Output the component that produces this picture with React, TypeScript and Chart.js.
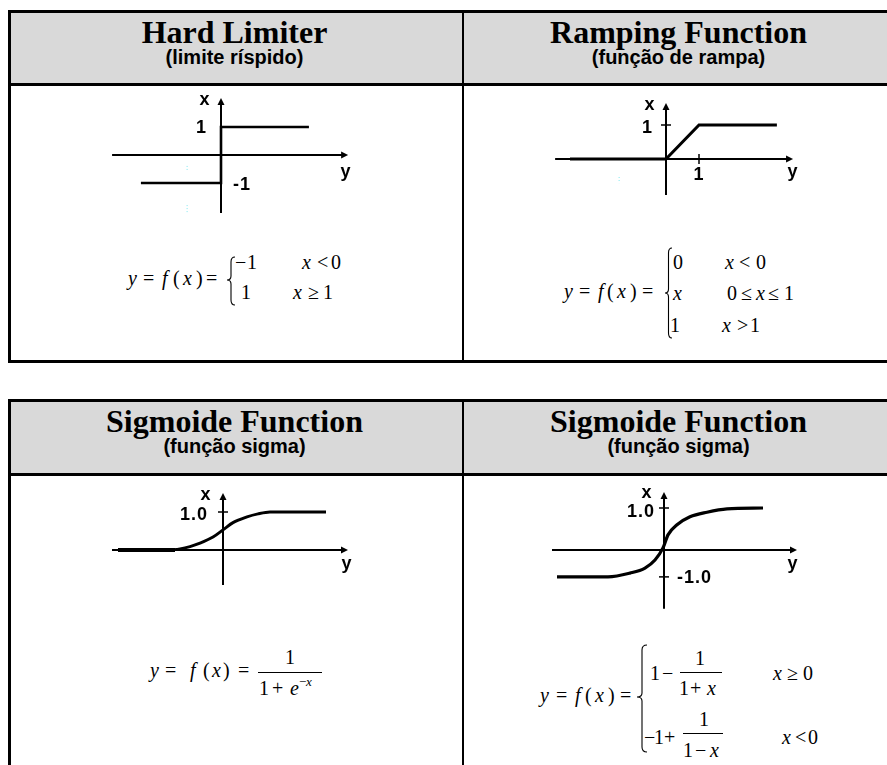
import React, { useEffect, useRef } from 'react';
import { Chart, registerables } from 'chart.js';

Chart.register(...registerables);

// ---------------- text ----------------
const titles = ['Hard Limiter', 'Ramping Function', 'Sigmoide Function', 'Sigmoide Function'];
const subtitles = ['(limite ríspido)', '(função de rampa)', '(função sigma)', '(função sigma)'];
const axisNames = ['x', 'y'];

// ---------------- Hard limiter ----------------
const hardAxisH = [-3.89, 4.54];
const hardAxisV = [-2.07, 2.04];
const hardStepX = [-2.86, 0, 0, 3.14];
const hardStepY = [-1, -1, 1, 1];
const hardTickValues = [1, -1];
const hardTickLabels = ['1', '-1'];
const hardMarkX = [-1.21, -1.21];
const hardMarkY1 = [-0.39, -0.54];
const hardMarkY2 = [-1.79, -2.04];

// ---------------- Ramping function ----------------
const rampAxisH = [-3.36, 3.85];
const rampAxisV = [-1.06, 1.65];
const rampX = [-2.91, 0, 1, 3.36];
const rampY = [0, 0, 1, 1];
const rampTickValues = [1];
const rampTickLabels = ['1'];
const rampMarkX = [-1.42, -1.42];
const rampMarkY = [-0.53, -0.71];

// ---------------- Sigmoid (logistic) ----------------
const sigAxisH = [-5.55, 6.25];
const sigAxisV = [-0.92, 1.5];
const sigTailX = [-5.25, -2.4];
const sigTailY = [0, 0];
const sigX = [-2.65, -2.15, -1.65, -1.15, -0.5, 0, 0.5, 1.2, 1.75, 2.35, 5.15];
const sigY = [0, 0.03, 0.09, 0.18, 0.34, 0.53, 0.72, 0.87, 0.95, 1.0, 1.0];
const sigTickValues = [1];
const sigTickLabels = ['1.0'];

// ---------------- Sigmoid (bipolar) ----------------
const bipAxisH = [-5.6, 6.65];
const bipAxisV = [-1.4, 1.38];
const bipX = [-5.35, -2.8, -1.7, -0.95, -0.45, -0.05, 0.2, 0.65, 1.3, 2.15, 3.15, 4.95];
const bipY = [-0.64, -0.64, -0.55, -0.43, -0.24, 0.05, 0.36, 0.6, 0.79, 0.9, 0.98, 1.0];
const bipTickValues = [1.0, -0.64];
const bipTickLabels = ['1.0', '-1.0'];

// ---------------- chart config ----------------
type Series = { xs: number[]; ys: number[]; width: number; color?: string; dash?: number[]; smooth?: boolean };
type Off = { dx: number; dy: number; align?: CanvasTextAlign };
type GraphCfg = {
  box: { left: number; top: number; width: number; height: number };
  origin: [number, number];
  unit: [number, number];
  axisH: number[];
  axisV: number[];
  series: Series[];
  vTicks: number[];
  vLabels: string[];
  vOff: Off[];
  vMarks: boolean;
  hTicks: number[];
  hLabels: string[];
  hOff: Off[];
  nameXOff: Off;
  nameYOff: Off;
};

const CYAN = '#7fe8f0';

const graphs: GraphCfg[] = [
  {
    box: { left: 95, top: 90, width: 275, height: 135 },
    origin: [221, 155],
    unit: [28, 28],
    axisH: hardAxisH,
    axisV: hardAxisV,
    series: [
      { xs: hardStepX, ys: hardStepY, width: 2.6 },
      { xs: hardMarkX, ys: hardMarkY1, width: 1, color: CYAN, dash: [1, 2] },
      { xs: hardMarkX, ys: hardMarkY2, width: 1, color: CYAN, dash: [1, 2] },
    ],
    vTicks: hardTickValues,
    vLabels: hardTickLabels,
    vOff: [
      { dx: -14, dy: 6, align: 'right' },
      { dx: 12, dy: 7, align: 'left' },
    ],
    vMarks: false,
    hTicks: [],
    hLabels: [],
    hOff: [],
    nameXOff: { dx: -16, dy: 7 },
    nameYOff: { dx: -2, dy: 22 },
  },
  {
    box: { left: 540, top: 90, width: 270, height: 115 },
    origin: [666, 159],
    unit: [33, 34],
    axisH: rampAxisH,
    axisV: rampAxisV,
    series: [
      { xs: rampX, ys: rampY, width: 3 },
      { xs: rampMarkX, ys: rampMarkY, width: 1, color: CYAN, dash: [1, 2] },
    ],
    vTicks: rampTickValues,
    vLabels: rampTickLabels,
    vOff: [{ dx: -13, dy: 8, align: 'right' }],
    vMarks: true,
    hTicks: rampTickValues,
    hLabels: rampTickLabels,
    hOff: [{ dx: 0, dy: 21, align: 'center' }],
    nameXOff: { dx: -16, dy: 7 },
    nameYOff: { dx: 0, dy: 18 },
  },
  {
    box: { left: 95, top: 480, width: 275, height: 115 },
    origin: [223, 550],
    unit: [20, 38],
    axisH: sigAxisH,
    axisV: sigAxisV,
    series: [
      { xs: sigTailX, ys: sigTailY, width: 4 },
      { xs: sigX, ys: sigY, width: 3, smooth: true },
    ],
    vTicks: sigTickValues,
    vLabels: sigTickLabels,
    vOff: [{ dx: -15, dy: 8, align: 'right' }],
    vMarks: true,
    hTicks: [],
    hLabels: [],
    hOff: [],
    nameXOff: { dx: -17, dy: 7 },
    nameYOff: { dx: -1, dy: 19 },
  },
  {
    box: { left: 535, top: 480, width: 280, height: 135 },
    origin: [664, 550],
    unit: [20, 42],
    axisH: bipAxisH,
    axisV: bipAxisV,
    series: [{ xs: bipX, ys: bipY, width: 3.2, smooth: true }],
    vTicks: bipTickValues,
    vLabels: bipTickLabels,
    vOff: [
      { dx: -9, dy: 9, align: 'right' },
      { dx: 13, dy: 6, align: 'left' },
    ],
    vMarks: true,
    hTicks: [],
    hLabels: [],
    hOff: [],
    nameXOff: { dx: -17, dy: 6 },
    nameYOff: { dx: -4, dy: 19 },
  },
];

const LABEL_FONT = 'bold 18px "Liberation Sans", Arial, sans-serif';

function makePlugin(cfg: GraphCfg) {
  return {
    id: 'arrowAxes',
    beforeDatasetsDraw(chart: any) {
      const ctx: CanvasRenderingContext2D = chart.ctx;
      const X = (v: number) => chart.scales.x.getPixelForValue(v);
      const Y = (v: number) => chart.scales.y.getPixelForValue(v);
      const ox = X(0);
      const oy = Y(0);
      ctx.save();
      ctx.strokeStyle = '#000';
      ctx.fillStyle = '#000';
      ctx.lineWidth = 2;
      const h0 = X(cfg.axisH[0]);
      const h1 = X(cfg.axisH[1]);
      ctx.beginPath();
      ctx.moveTo(h0, oy);
      ctx.lineTo(h1 - 4, oy);
      ctx.stroke();
      ctx.beginPath();
      ctx.moveTo(h1, oy);
      ctx.lineTo(h1 - 7, oy - 3.5);
      ctx.lineTo(h1 - 7, oy + 3.5);
      ctx.closePath();
      ctx.fill();
      const v0 = Y(cfg.axisV[0]);
      const v1 = Y(cfg.axisV[1]);
      ctx.beginPath();
      ctx.moveTo(ox, v0);
      ctx.lineTo(ox, v1 + 4);
      ctx.stroke();
      ctx.beginPath();
      ctx.moveTo(ox, v1);
      ctx.lineTo(ox - 3.5, v1 + 7);
      ctx.lineTo(ox + 3.5, v1 + 7);
      ctx.closePath();
      ctx.fill();
      ctx.lineWidth = 1.5;
      if (cfg.vMarks) {
        cfg.vTicks.forEach((t) => {
          const y = Y(t);
          ctx.beginPath();
          ctx.moveTo(ox - 5, y);
          ctx.lineTo(ox + 5, y);
          ctx.stroke();
        });
      }
      cfg.hTicks.forEach((t) => {
        const x = X(t);
        ctx.beginPath();
        ctx.moveTo(x, oy - 5);
        ctx.lineTo(x, oy + 5);
        ctx.stroke();
      });
      ctx.restore();
    },
    afterDatasetsDraw(chart: any) {
      const ctx: any = chart.ctx;
      const X = (v: number) => chart.scales.x.getPixelForValue(v);
      const Y = (v: number) => chart.scales.y.getPixelForValue(v);
      const ox = X(0);
      const oy = Y(0);
      ctx.save();
      ctx.fillStyle = '#000';
      ctx.font = LABEL_FONT;
      ctx.textBaseline = 'alphabetic';
      try {
        ctx.letterSpacing = '1px';
      } catch (e) {}
      cfg.vTicks.forEach((t, i) => {
        const o = cfg.vOff[i];
        ctx.textAlign = o.align || 'center';
        ctx.fillText(cfg.vLabels[i], ox + o.dx, Y(t) + o.dy);
      });
      cfg.hTicks.forEach((t, i) => {
        const o = cfg.hOff[i];
        ctx.textAlign = o.align || 'center';
        ctx.fillText(cfg.hLabels[i], X(t) + o.dx, oy + o.dy);
      });
      ctx.textAlign = 'center';
      ctx.fillText(axisNames[0], ox + cfg.nameXOff.dx, Y(cfg.axisV[1]) + cfg.nameXOff.dy);
      ctx.fillText(axisNames[1], X(cfg.axisH[1]) + cfg.nameYOff.dx, oy + cfg.nameYOff.dy);
      ctx.restore();
    },
  };
}

function Graph({ cfg }: { cfg: GraphCfg }) {
  const ref = useRef<HTMLCanvasElement>(null);
  useEffect(() => {
    const canvas = ref.current;
    if (!canvas) return;
    const { box, origin, unit } = cfg;
    const xmin = (box.left - origin[0]) / unit[0];
    const xmax = (box.left + box.width - origin[0]) / unit[0];
    const ymax = (origin[1] - box.top) / unit[1];
    const ymin = (origin[1] - (box.top + box.height)) / unit[1];
    const chart = new Chart(canvas, {
      type: 'scatter',
      data: {
        datasets: cfg.series.map((s) => ({
          data: s.xs.map((x, i) => ({ x, y: s.ys[i] })),
          showLine: true,
          borderColor: s.color || '#000',
          backgroundColor: s.color || '#000',
          borderWidth: s.width,
          borderDash: s.dash || [],
          pointRadius: 0,
          pointHoverRadius: 0,
          fill: false,
          tension: 0,
          cubicInterpolationMode: s.smooth ? 'monotone' : 'default',
          borderCapStyle: 'butt',
          borderJoinStyle: 'miter',
        })),
      },
      options: {
        responsive: false,
        maintainAspectRatio: false,
        animation: false,
        devicePixelRatio: 1,
        events: [],
        layout: { padding: 0 },
        scales: {
          x: { type: 'linear', display: false, min: xmin, max: xmax },
          y: { type: 'linear', display: false, min: ymin, max: ymax },
        },
        plugins: { legend: { display: false }, tooltip: { enabled: false } },
      },
      plugins: [makePlugin(cfg)],
    } as any);
    return () => chart.destroy();
  }, [cfg]);
  return (
    <canvas
      ref={ref}
      width={cfg.box.width}
      height={cfg.box.height}
      style={{
        position: 'absolute',
        left: cfg.box.left,
        top: cfg.box.top,
        width: cfg.box.width,
        height: cfg.box.height,
      }}
    />
  );
}

// ---------------- formula helpers ----------------
type Tok = [number, number, string, boolean?, number?];
const SERIF = '"Liberation Serif", "Times New Roman", serif';
const FS = 20;

function Toks({ toks }: { toks: Tok[] }) {
  return (
    <>
      {toks.map(([l, cy, t, it, sz], i) => {
        const s = sz ?? FS;
        return (
          <span
            key={i}
            style={{
              position: 'absolute',
              left: l,
              top: cy - s / 2,
              fontSize: s,
              lineHeight: 1,
              fontFamily: SERIF,
              fontStyle: it ? 'italic' : 'normal',
              whiteSpace: 'pre',
              color: '#000',
            }}
          >
            {t}
          </span>
        );
      })}
    </>
  );
}

function Bar({ x0, x1, y }: { x0: number; x1: number; y: number }) {
  return <div style={{ position: 'absolute', left: x0, top: y, width: x1 - x0, height: 1, background: '#000' }} />;
}

function bracePath(xr: number, xl: number, yt: number, ym: number, yb: number) {
  const xm = (xl + xr) / 2;
  return `M${xr},${yt} Q${xm},${yt} ${xm},${yt + 5} L${xm},${ym - 4} Q${xm},${ym} ${xl},${ym} Q${xm},${ym} ${xm},${ym + 4} L${xm},${yb - 5} Q${xm},${yb} ${xr},${yb}`;
}

const f1: Tok[] = [
  [128, 278, 'y', true], [143, 278, '='], [162, 278, 'f', true], [173, 278, '('], [183, 278, 'x', true], [196, 278, ')'], [206, 278, '='],
  [235, 262, '−'], [247, 262, '1'], [302, 262, 'x', true], [317, 262, '<'], [331, 262, '0'],
  [241, 292, '1'], [293, 292, 'x', true], [308, 292, '≥'], [323, 292, '1'],
];
const f2: Tok[] = [
  [564, 291, 'y', true], [579, 291, '='], [598, 291, 'f', true], [607, 291, '('], [617, 291, 'x', true], [630, 291, ')'], [642, 291, '='],
  [673, 262, '0'], [725, 262, 'x', true], [739, 262, '<'], [756, 262, '0'],
  [673, 293, 'x', true], [727, 293, '0'], [741, 293, '≤'], [756, 293, 'x', true], [768, 293, '≤'], [784, 293, '1'],
  [670, 325, '1'], [722, 325, 'x', true], [737, 325, '>'], [750, 325, '1'],
];
const f3: Tok[] = [
  [150, 670, 'y', true], [165, 670, '='], [190, 670, 'f', true], [203, 670, '('], [212, 670, 'x', true], [223, 670, ')'], [238, 670, '='],
  [285, 657, '1'],
  [259, 688, '1'], [272, 688, '+'], [290, 688, 'e', true], [299, 681, '−', false, 13], [306, 681, 'x', true, 13],
];
const f4: Tok[] = [
  [540, 695, 'y', true], [556, 695, '='], [575, 695, 'f', true], [585, 695, '('], [595, 695, 'x', true], [608, 695, ')'], [620, 695, '='],
  [650, 673, '1'], [662, 673, '−'], [695, 658, '1'], [679, 688, '1'], [690, 688, '+'], [707, 688, 'x', true],
  [773, 673, 'x', true], [787, 673, '≥'], [803, 673, '0'],
  [644, 737, '−'], [654, 737, '1'], [664, 737, '+'], [699, 719, '1'], [683, 750, '1'], [695, 750, '−'], [710, 750, 'x', true],
  [782, 737, 'x', true], [795, 737, '<'], [808, 737, '0'],
];

// ---------------- table frame ----------------
function Frame({ top, height, hdr, t0 }: { top: number; height: number; hdr: number; t0: number }) {
  const titleStyle: React.CSSProperties = {
    position: 'absolute',
    textAlign: 'center',
    fontFamily: SERIF,
    fontWeight: 'bold',
    fontSize: 32,
    lineHeight: 1,
    whiteSpace: 'nowrap',
    color: '#000',
  };
  const subStyle: React.CSSProperties = {
    position: 'absolute',
    textAlign: 'center',
    fontFamily: '"Liberation Sans", Arial, sans-serif',
    fontWeight: 'bold',
    fontSize: 20,
    lineHeight: 1,
    whiteSpace: 'nowrap',
    color: '#000',
  };
  const cols = [
    { left: 11, width: 447 },
    { left: 464, width: 429 },
  ];
  return (
    <>
      <div style={{ position: 'absolute', left: 8, top, width: 900, height, border: '3px solid #000', boxSizing: 'border-box', background: '#fff' }} />
      <div style={{ position: 'absolute', left: 11, top: top + 3, width: 900, height: hdr - 3, background: '#d9d9d9' }} />
      <div style={{ position: 'absolute', left: 8, top: top + hdr, width: 900, height: 3, background: '#000' }} />
      <div style={{ position: 'absolute', left: 462, top, width: 2, height, background: '#000' }} />
      {cols.map((c, i) => (
        <React.Fragment key={i}>
          <div style={{ ...titleStyle, left: c.left, width: c.width, top: top + 6 }}>{titles[t0 + i]}</div>
          <div style={{ ...subStyle, left: c.left, width: c.width, top: top + 37 }}>{subtitles[t0 + i]}</div>
        </React.Fragment>
      ))}
    </>
  );
}

export default function App() {
  return (
    <div
      style={{
        position: 'absolute',
        left: 0,
        top: 0,
        width: 887,
        height: 765,
        overflow: 'hidden',
        background: '#fff',
      }}
    >
      <Frame top={10} height={353} hdr={73} t0={0} />
      <Frame top={399} height={420} hdr={74} t0={2} />
      {graphs.map((g, i) => (
        <Graph key={i} cfg={g} />
      ))}
      <Toks toks={f1} />
      <Toks toks={f2} />
      <Toks toks={f3} />
      <Toks toks={f4} />
      <Bar x0={258} x1={322} y={672} />
      <Bar x0={680} x1={722} y={672} />
      <Bar x0={683} x1={723} y={733} />
      <svg width={887} height={765} style={{ position: 'absolute', left: 0, top: 0, pointerEvents: 'none' }}>
        <path d={bracePath(235, 227, 257, 280, 305)} fill="none" stroke="#000" strokeWidth={1.1} />
        <path d={bracePath(672, 665, 248, 293, 338)} fill="none" stroke="#000" strokeWidth={1.1} />
        <path d={bracePath(647, 637, 645, 697, 752)} fill="none" stroke="#000" strokeWidth={1.1} />
      </svg>
    </div>
  );
}
